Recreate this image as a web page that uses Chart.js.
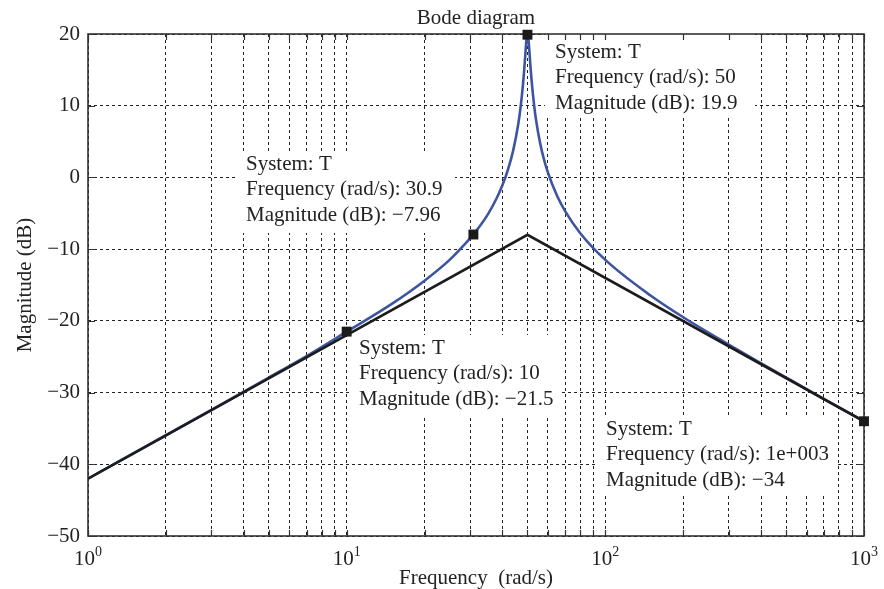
<!DOCTYPE html>
<html>
<head>
<meta charset="utf-8">
<script src="https://cdn.jsdelivr.net/npm/chart.js@4/dist/chart.umd.min.js"></script>
<style>
  html, body { margin: 0; padding: 0; background: #fff; }
  #wrap { width: 884px; height: 589px; }
</style>
</head>
<body>
<div id="wrap"><canvas id="bode" width="884" height="589"></canvas></div>
<script>
// closed-loop magnitude of T
const freq = [1, 2, 3, 5, 7, 10, 15, 20, 25, 30, 30.9, 35, 38, 40, 42, 44, 46, 47, 48, 48.5, 49, 49.5, 50,
              50.5, 51, 51.5, 52, 53, 54, 56, 58, 60, 65, 70, 80, 100, 150, 200, 300, 500, 700, 1000]
const magT = [-42.0, -35.95, -32.4, -27.9, -24.9, -21.5, -17.6, -14.4, -11.5, -8.5, -7.96, -5.25, -2.9, -1.1, 1.05, 3.7, 7.3, 9.7, 12.8, 14.7, 16.9, 19.0, 19.9,
              19.0, 17.0, 14.9, 13.1, 10.2, 7.96, 4.74, 2.43, 0.66, -2.53, -4.74, -7.78, -11.5, -16.5, -19.5, -23.3, -27.9, -30.9, -34.0]

// straight-line asymptote
const asymFreq = [1, 50, 1000]
const asymMag = [-42, -8, -34]

// data tips
const tipFreq = [50, 30.9, 10, 1000]
const tipMag = [19.9, -7.96, -21.5, -34]
const tipFreqText = ["50", "30.9", "10", "1e+003"]
const tipMagText = ["19.9", "\u22127.96", "\u221221.5", "\u221234"]

// axes
const yTicks = [20, 10, 0, -10, -20, -30, -40, -50]
const decades = [1, 10, 100, 1000]
const decadeExp = ["0", "1", "2", "3"]
const xGrid = [1, 2, 3, 4, 5, 6, 7, 8, 9, 10, 20, 30, 40, 50, 60, 70, 80, 90, 100,
               200, 300, 400, 500, 600, 700, 800, 900, 1000]

const SERIF = "'Liberation Serif', 'DejaVu Serif', serif"
const INK = "#222"
const FONT = "21px " + SERIF
const SUP = "14px " + SERIF

// where the tip boxes sit (box rect, then text origin)
const tipBoxes = [
    { x: 545, y: 34, w: 210, h: 81, tx: 555, ty: 52 },
    { x: 238, y: 153, w: 217, h: 80, tx: 246, ty: 164 },
    { x: 350, y: 335, w: 210, h: 80, tx: 359, ty: 348 },
    { x: 595, y: 415, w: 243, h: 80, tx: 606, ty: 429 }
]

function toPoints(xs, ys) {
    return xs.map((x, i) => ({ x: x, y: ys[i] }))
}

const bodePlugin = {
    id: "bode",
    beforeDatasetsDraw(chart) {
        const ctx = chart.ctx
        const a = chart.chartArea
        const xs = chart.scales.x
        const ys = chart.scales.y
        ctx.save()

        // white boxes behind the data tip text
        ctx.fillStyle = "#fff"
        tipBoxes.forEach(b => ctx.fillRect(b.x, b.y, b.w, b.h))

        ctx.fillStyle = INK
        ctx.font = FONT
        ctx.textAlign = "left"
        ctx.textBaseline = "middle"
        tipBoxes.forEach((b, i) => {
            ctx.fillText("System: T", b.tx, b.ty)
            ctx.fillText("Frequency (rad/s): " + tipFreqText[i], b.tx, b.ty + 25.5)
            ctx.fillText("Magnitude (dB): " + tipMagText[i], b.tx, b.ty + 51)
        })

        // axes frame
        ctx.strokeStyle = "#333"
        ctx.lineWidth = 1.6
        ctx.strokeRect(a.left, a.top, a.right - a.left, a.bottom - a.top)

        // inward ticks
        ctx.lineWidth = 1.2
        ctx.beginPath()
        xGrid.forEach(v => {
            const px = Math.round(xs.getPixelForValue(v)) + 0.5
            ctx.moveTo(px, a.bottom); ctx.lineTo(px, a.bottom - 6)
            ctx.moveTo(px, a.top); ctx.lineTo(px, a.top + 6)
        })
        yTicks.forEach(v => {
            const py = Math.round(ys.getPixelForValue(v)) + 0.5
            ctx.moveTo(a.left, py); ctx.lineTo(a.left + 7, py)
            ctx.moveTo(a.right, py); ctx.lineTo(a.right - 7, py)
        })
        ctx.stroke()
        ctx.restore()
    },
    afterDraw(chart) {
        const ctx = chart.ctx
        const a = chart.chartArea
        const xs = chart.scales.x
        const ys = chart.scales.y
        ctx.save()
        ctx.fillStyle = INK

        // y tick labels
        ctx.font = FONT
        ctx.textAlign = "right"
        ctx.textBaseline = "middle"
        yTicks.forEach(v => {
            const t = v < 0 ? "\u2212" + Math.abs(v) : String(v)
            ctx.fillText(t, a.left - 8, ys.getPixelForValue(v))
        })

        // x tick labels, 10 with superscript exponent
        decades.forEach((d, i) => {
            const px = xs.getPixelForValue(d)
            ctx.font = FONT
            const wBase = ctx.measureText("10").width
            ctx.font = SUP
            const wExp = ctx.measureText(decadeExp[i]).width
            const left = px - (wBase + wExp) / 2
            ctx.textAlign = "left"
            ctx.textBaseline = "alphabetic"
            ctx.font = FONT
            ctx.fillText("10", left, a.bottom + 29)
            ctx.font = SUP
            ctx.fillText(decadeExp[i], left + wBase, a.bottom + 20)
        })

        // titles
        ctx.font = FONT
        ctx.textAlign = "center"
        ctx.textBaseline = "middle"
        ctx.fillText("Frequency  (rad/s)", (a.left + a.right) / 2, 578)
        ctx.fillText("Bode diagram", (a.left + a.right) / 2, 18)

        ctx.translate(25, (a.top + a.bottom) / 2)
        ctx.rotate(-Math.PI / 2)
        ctx.fillText("Magnitude (dB)", 0, 0)
        ctx.restore()
    }
}

new Chart(document.getElementById("bode").getContext("2d"), {
    type: "line",
    data: {
        datasets: [
            {
                label: "tips",
                data: toPoints(tipFreq, tipMag),
                showLine: false,
                pointStyle: "rect",
                pointRadius: 7,
                pointBackgroundColor: "#1a1a1a",
                pointBorderColor: "#1a1a1a",
                pointBorderWidth: 0,
                clip: false
            },
            {
                label: "asymptote",
                data: toPoints(asymFreq, asymMag),
                borderColor: "#1c1c1c",
                borderWidth: 2.6,
                pointRadius: 0,
                tension: 0
            },
            {
                label: "T",
                data: toPoints(freq, magT),
                borderColor: "#3d55a0",
                borderWidth: 2.6,
                pointRadius: 0,
                tension: 0.25,
                cubicInterpolationMode: "monotone"
            }
        ]
    },
    options: {
        responsive: false,
        devicePixelRatio: 1,
        animation: false,
        layout: { padding: { left: 88, top: 34, right: 20, bottom: 53 } },
        plugins: {
            legend: { display: false },
            tooltip: { enabled: false },
            title: { display: false }
        },
        scales: {
            x: {
                type: "logarithmic",
                min: 1,
                max: 1000,
                afterBuildTicks: s => { s.ticks = xGrid.map(v => ({ value: v })) },
                ticks: { display: false, autoSkip: false },
                grid: { color: "#222", lineWidth: 1, drawTicks: false },
                border: { display: false, dash: [3, 3] }
            },
            y: {
                type: "linear",
                min: -50,
                max: 20,
                afterBuildTicks: s => { s.ticks = yTicks.map(v => ({ value: v })) },
                ticks: { display: false },
                grid: { color: "#222", lineWidth: 1, drawTicks: false },
                border: { display: false, dash: [3, 3] }
            }
        }
    },
    plugins: [bodePlugin]
})
</script>
</body>
</html>
